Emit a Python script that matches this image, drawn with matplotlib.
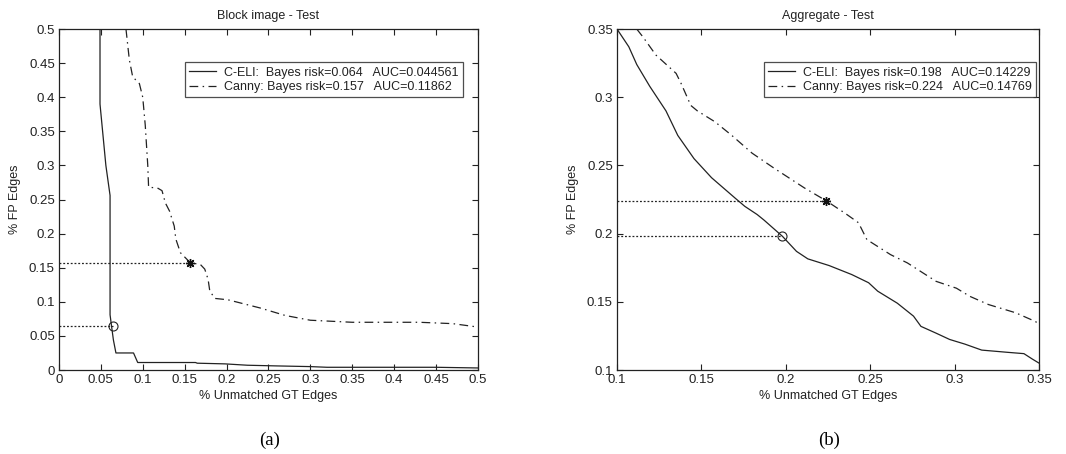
import matplotlib
matplotlib.use("Agg")
import matplotlib.pyplot as plt
from matplotlib.ticker import FuncFormatter

plt.rcParams['font.family'] = ['Liberation Sans', 'DejaVu Sans']

# ---------------- data: panel (a) Block image - Test ----------------
a_celi_x = [0.049, 0.049, 0.056, 0.061, 0.061, 0.061, 0.0628, 0.065, 0.068, 0.089,
            0.094, 0.163, 0.165, 0.198, 0.225, 0.26, 0.30, 0.32, 0.36, 0.40, 0.45, 0.50]
a_celi_y = [0.500, 0.390, 0.300, 0.256, 0.150, 0.081, 0.064, 0.044, 0.025, 0.025,
            0.011, 0.011, 0.010, 0.009, 0.007, 0.006, 0.005, 0.004, 0.004, 0.004, 0.004, 0.003]
a_canny_x = [0.080, 0.084, 0.088, 0.096, 0.100, 0.103, 0.106, 0.107, 0.1175, 0.123,
             0.127, 0.132, 0.1376, 0.1395, 0.145, 0.157, 0.1686, 0.174, 0.178, 0.180,
             0.186, 0.2016, 0.240, 0.27, 0.30, 0.35, 0.43, 0.47, 0.50]
a_canny_y = [0.500, 0.455, 0.430, 0.420, 0.400, 0.359, 0.300, 0.268, 0.267, 0.263,
             0.245, 0.233, 0.211, 0.192, 0.172, 0.157, 0.155, 0.148, 0.133, 0.116,
             0.105, 0.103, 0.091, 0.080, 0.073, 0.070, 0.070, 0.068, 0.063]
a_celi_pt = (0.064, 0.064)
a_canny_pt = (0.157, 0.157)
a_labels = ['C-ELI:  Bayes risk=0.064   AUC=0.044561',
            'Canny: Bayes risk=0.157   AUC=0.11862']
a_ticks = [0, 0.05, 0.1, 0.15, 0.2, 0.25, 0.3, 0.35, 0.4, 0.45, 0.5]

# ---------------- data: panel (b) Aggregate - Test ----------------
b_celi_x = [0.100, 0.107, 0.1117, 0.1194, 0.129, 0.136, 0.1456, 0.156, 0.170, 0.1757,
            0.183, 0.187, 0.198, 0.2063, 0.213, 0.2256, 0.239, 0.249, 0.2544, 0.266,
            0.2756, 0.280, 0.289, 0.297, 0.306, 0.316, 0.331, 0.341, 0.346, 0.350]
b_celi_y = [0.350, 0.337, 0.324, 0.308, 0.290, 0.272, 0.255, 0.241, 0.226, 0.220,
            0.214, 0.210, 0.198, 0.187, 0.1815, 0.1766, 0.170, 0.164, 0.1578, 0.149,
            0.1395, 0.132, 0.127, 0.1224, 0.119, 0.1146, 0.113, 0.112, 0.108, 0.105]
b_canny_x = [0.1117, 0.1155, 0.123, 0.135, 0.138, 0.1437, 0.1476, 0.158, 0.168, 0.180,
             0.193, 0.211, 0.224, 0.235, 0.243, 0.248, 0.262, 0.272, 0.289, 0.301,
             0.309, 0.320, 0.336, 0.347, 0.350]
b_canny_y = [0.350, 0.344, 0.331, 0.3175, 0.310, 0.294, 0.290, 0.282, 0.272, 0.259,
             0.248, 0.2335, 0.224, 0.215, 0.208, 0.1956, 0.1846, 0.1785, 0.165, 0.160,
             0.154, 0.148, 0.142, 0.136, 0.134]
b_celi_pt = (0.198, 0.198)
b_canny_pt = (0.224, 0.224)
b_labels = ['C-ELI:  Bayes risk=0.198   AUC=0.14229',
            'Canny: Bayes risk=0.224   AUC=0.14769']
b_ticks = [0.1, 0.15, 0.2, 0.25, 0.3, 0.35]

titles = ['Block image - Test', 'Aggregate - Test']
captions = ['(a)', '(b)']
xlabel = '% Unmatched GT Edges'
ylabel = '% FP Edges'

DASHDOT = (0, (7, 3.5, 1.2, 3.5))
fmt = FuncFormatter(lambda v, p: ('%g' % round(v, 4)))

fig = plt.figure(figsize=(10.66, 4.54), dpi=100)
ax_a = fig.add_axes([0.0553, 0.185, 0.393, 0.751])
ax_b = fig.add_axes([0.5788, 0.185, 0.396, 0.751])

panels = [
    (ax_a, a_celi_x, a_celi_y, a_canny_x, a_canny_y, a_celi_pt, a_canny_pt, a_labels,
     a_ticks, (0, 0.5), (0.964, 0.903)),
    (ax_b, b_celi_x, b_celi_y, b_canny_x, b_canny_y, b_celi_pt, b_canny_pt, b_labels,
     b_ticks, (0.1, 0.35), (0.993, 0.903)),
]

for i, (ax, cx, cy, kx, ky, cpt, kpt, labels, ticks, lim, anchor) in enumerate(panels):
    l1, = ax.plot(cx, cy, color='#222222', lw=0.9, linestyle='-')
    l2, = ax.plot(kx, ky, color='#222222', lw=0.9, linestyle=DASHDOT)
    ax.plot([lim[0], cpt[0]], [cpt[1], cpt[1]], color='#222222', lw=0.9, linestyle=(0, (1.5, 1.5)))
    ax.plot([lim[0], kpt[0]], [kpt[1], kpt[1]], color='#222222', lw=0.9, linestyle=(0, (1.5, 1.5)))
    ax.plot([cpt[0]], [cpt[1]], marker='o', mfc='none', mec='#222222', ms=6.5, mew=0.8)
    ax.plot([kpt[0]], [kpt[1]], marker=(8, 2, 0), color='#111111', ms=6.5, mew=1.0)
    ax.set_xlim(lim)
    ax.set_ylim(lim)
    ax.set_xticks(ticks)
    ax.set_yticks(ticks)
    ax.xaxis.set_major_formatter(fmt)
    ax.yaxis.set_major_formatter(fmt)
    ax.tick_params(direction='in', top=True, right=True, length=4, width=0.8,
                   labelsize=9.5, pad=3, colors='#222222')
    for s in ax.spines.values():
        s.set_linewidth(0.9)
        s.set_color('#222222')
    ax.set_title(titles[i], fontsize=9, pad=7, color='#222222')
    ax.set_xlabel(xlabel, fontsize=9, labelpad=3, color='#222222')
    ax.set_ylabel(ylabel, fontsize=9, labelpad=6, color='#222222')
    leg = ax.legend([l1, l2], labels, loc='upper right', bbox_to_anchor=anchor,
                    fontsize=9, frameon=True, fancybox=False, handlelength=2.2,
                    borderpad=0.35, labelspacing=0.2, handletextpad=0.6, borderaxespad=0)
    leg.get_frame().set_edgecolor('#222222')
    leg.get_frame().set_linewidth(0.9)
    for t in leg.get_texts():
        t.set_color('#222222')

fig.text(0.2533, 0.03, captions[0], ha='center', va='center', fontsize=13.5,
         family=['Liberation Serif', 'DejaVu Serif'])
fig.text(0.7777, 0.03, captions[1], ha='center', va='center', fontsize=13.5,
         family=['Liberation Serif', 'DejaVu Serif'])

fig.savefig('out.png', dpi=100)
